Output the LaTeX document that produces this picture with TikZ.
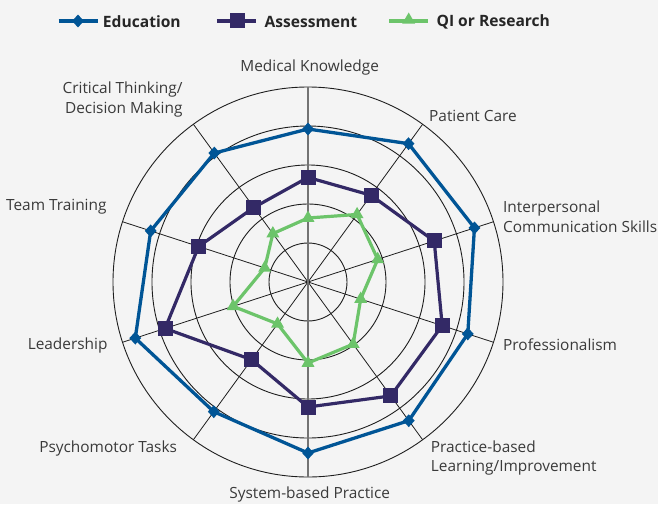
\documentclass[tikz,border=0pt]{standalone}
\usepackage{fontspec}
\setmainfont{Open Sans}
\usepackage{tikz}
\usetikzlibrary{shapes.geometric}

\definecolor{bgcol}{HTML}{F4F4F4}
\definecolor{educol}{HTML}{005596}
\definecolor{asscol}{HTML}{332966}
\definecolor{qicol}{HTML}{6CC46A}
\definecolor{labcol}{HTML}{3A3A3A}
\definecolor{gridcol}{HTML}{1E1E1E}

\begin{document}
\begin{tikzpicture}[x=1pt,y=1pt,
  ring/.style={draw=gridcol,line width=0.9pt},
  spoke/.style={draw=gridcol,line width=0.8pt},
  axislab/.style={text=labcol,font=\fontsize{15.4}{19.5}\selectfont,inner sep=0pt},
  keylab/.style={text=black!85,font=\fontsize{15.6}{18}\selectfont\bfseries,inner sep=0pt,anchor=west},
  eduline/.style={draw=educol,line width=3.3pt,line join=round},
  assline/.style={draw=asscol,line width=3.2pt,line join=round},
  qiline/.style={draw=qicol,line width=3.2pt,line join=round},
  edumark/.style={diamond,fill=educol,inner sep=0pt,minimum width=12pt,minimum height=13pt},
  assmark/.style={rectangle,fill=asscol,inner sep=0pt,minimum size=15pt},
  qimark/.style={regular polygon,regular polygon sides=3,fill=qicol,inner sep=0pt,minimum size=15pt}]
\fill [bgcol] (-308,-222) rectangle (350,282);
\useasboundingbox (-308,-222) rectangle (350,282);
\coordinate (o) at (0,0);
% rings and spokes
\draw [ring] (o) circle (39);
\draw [ring] (o) circle (78);
\draw [ring] (o) circle (117);
\draw [ring] (o) circle (156);
\draw [ring] (o) circle (195);
\draw [spoke] (o) -- (54:195) (o) -- (18:195) (o) -- (-18:195) (o) -- (-54:195);
\draw [spoke] (o) -- (-126:195) (o) -- (-162:195) (o) -- (162:195) (o) -- (126:195);
\draw [draw=black!55,line width=1.6pt] (90:195) -- (-90:195);
% axis labels
\node [axislab] (medk) at (1.7,214.8) {Medical Knowledge};
\node [axislab,anchor=west] (patc) at (121,165.6) {Patient Care};
\node [axislab,anchor=west,align=left] (ipcs) at (195,65.3) {Interpersonal\\Communication Skills};
\node [axislab,anchor=west] (prof) at (195,-62.7) {Professionalism};
\node [axislab,anchor=west,align=left] (pbli) at (122.7,-176) {Practice-based\\Learning/Improvement};
\node [axislab] (sbpr) at (1.7,-212) {System-based Practice};
\node [axislab,anchor=east] (psyt) at (-130.8,-166) {Psychomotor Tasks};
\node [axislab,anchor=east] (lead) at (-200.3,-63.7) {Leadership};
\node [axislab,anchor=east] (team) at (-201.3,75.6) {Team Training};
\node [axislab,anchor=east,align=right] (crit) at (-125.3,182.3) {Critical Thinking/\\Decision Making};
% Education
\coordinate (e1) at (90:153);   \coordinate (e2) at (54:171);
\coordinate (e3) at (18:175);   \coordinate (e4) at (-18:168);
\coordinate (e5) at (-54:171.4); \coordinate (e6) at (-90:171);
\coordinate (e7) at (-126:160.3); \coordinate (e8) at (-162:181.6);
\coordinate (e9) at (162:165.4); \coordinate (e10) at (126:159.4);
% Assessment
\coordinate (a1) at (90:104.6);  \coordinate (a2) at (54:107.2);
\coordinate (a3) at (18:132.7);  \coordinate (a4) at (-18:141.1);
\coordinate (a5) at (-54:140.8); \coordinate (a6) at (-90:125);
\coordinate (a7) at (-126:96);   \coordinate (a8) at (-162:150.3);
\coordinate (a9) at (162:115);   \coordinate (a10) at (126:92.1);
% QI or Research
\coordinate (q1) at (90:64);     \coordinate (q2) at (54:83.5);
\coordinate (q3) at (18:73.3);   \coordinate (q4) at (-18:55.4);
\coordinate (q5) at (-54:76.8);  \coordinate (q6) at (-90:81);
\coordinate (q7) at (-126:51.8); \coordinate (q8) at (-162:78.7);
\coordinate (q9) at (162:45.5);  \coordinate (q10) at (126:59.8);
\draw [qiline] (q1) -- (q2) -- (q3) -- (q4) -- (q5) -- (q6) -- (q7) -- (q8) -- (q9) -- (q10) -- cycle;
\draw [assline] (a1) -- (a2) -- (a3) -- (a4) -- (a5) -- (a6) -- (a7) -- (a8) -- (a9) -- (a10) -- cycle;
\draw [eduline] (e1) -- (e2) -- (e3) -- (e4) -- (e5) -- (e6) -- (e7) -- (e8) -- (e9) -- (e10) -- cycle;
\node [qimark] (qm1) at (q1) {}; \node [qimark] (qm2) at (q2) {};
\node [qimark] (qm3) at (q3) {}; \node [qimark] (qm4) at (q4) {};
\node [qimark] (qm5) at (q5) {}; \node [qimark] (qm6) at (q6) {};
\node [qimark] (qm7) at (q7) {}; \node [qimark] (qm8) at (q8) {};
\node [qimark] (qm9) at (q9) {}; \node [qimark] (qm10) at (q10) {};
\node [assmark] (am1) at (a1) {}; \node [assmark] (am2) at (a2) {};
\node [assmark] (am3) at (a3) {}; \node [assmark] (am4) at (a4) {};
\node [assmark] (am5) at (a5) {}; \node [assmark] (am6) at (a6) {};
\node [assmark] (am7) at (a7) {}; \node [assmark] (am8) at (a8) {};
\node [assmark] (am9) at (a9) {}; \node [assmark] (am10) at (a10) {};
\node [edumark] (em1) at (e1) {}; \node [edumark] (em2) at (e2) {};
\node [edumark] (em3) at (e3) {}; \node [edumark] (em4) at (e4) {};
\node [edumark] (em5) at (e5) {}; \node [edumark] (em6) at (e6) {};
\node [edumark] (em7) at (e7) {}; \node [edumark] (em8) at (e8) {};
\node [edumark] (em9) at (e9) {}; \node [edumark] (em10) at (e10) {};
% legend
\coordinate (k1a) at (-249.3,261); \coordinate (k1b) at (-210.2,261);
\coordinate (k2a) at (-91,261);    \coordinate (k2b) at (-52,261);
\coordinate (k3a) at (81.4,261);   \coordinate (k3b) at (120,261);
\draw [eduline] (k1a) -- (k1b);
\node [edumark] (k1m) at (-230,261) {};
\node [keylab] (k1t) at (-205.2,260.5) {Education};
\draw [assline] (k2a) -- (k2b);
\node [assmark] (k2m) at (-70.5,261) {};
\node [keylab] (k2t) at (-43.6,260.5) {Assessment};
\draw [qiline] (k3a) -- (k3b);
\node [qimark] (k3m) at (100.7,262) {};
\node [keylab] (k3t) at (128.4,260.5) {QI or Research};
\end{tikzpicture}
\end{document}
